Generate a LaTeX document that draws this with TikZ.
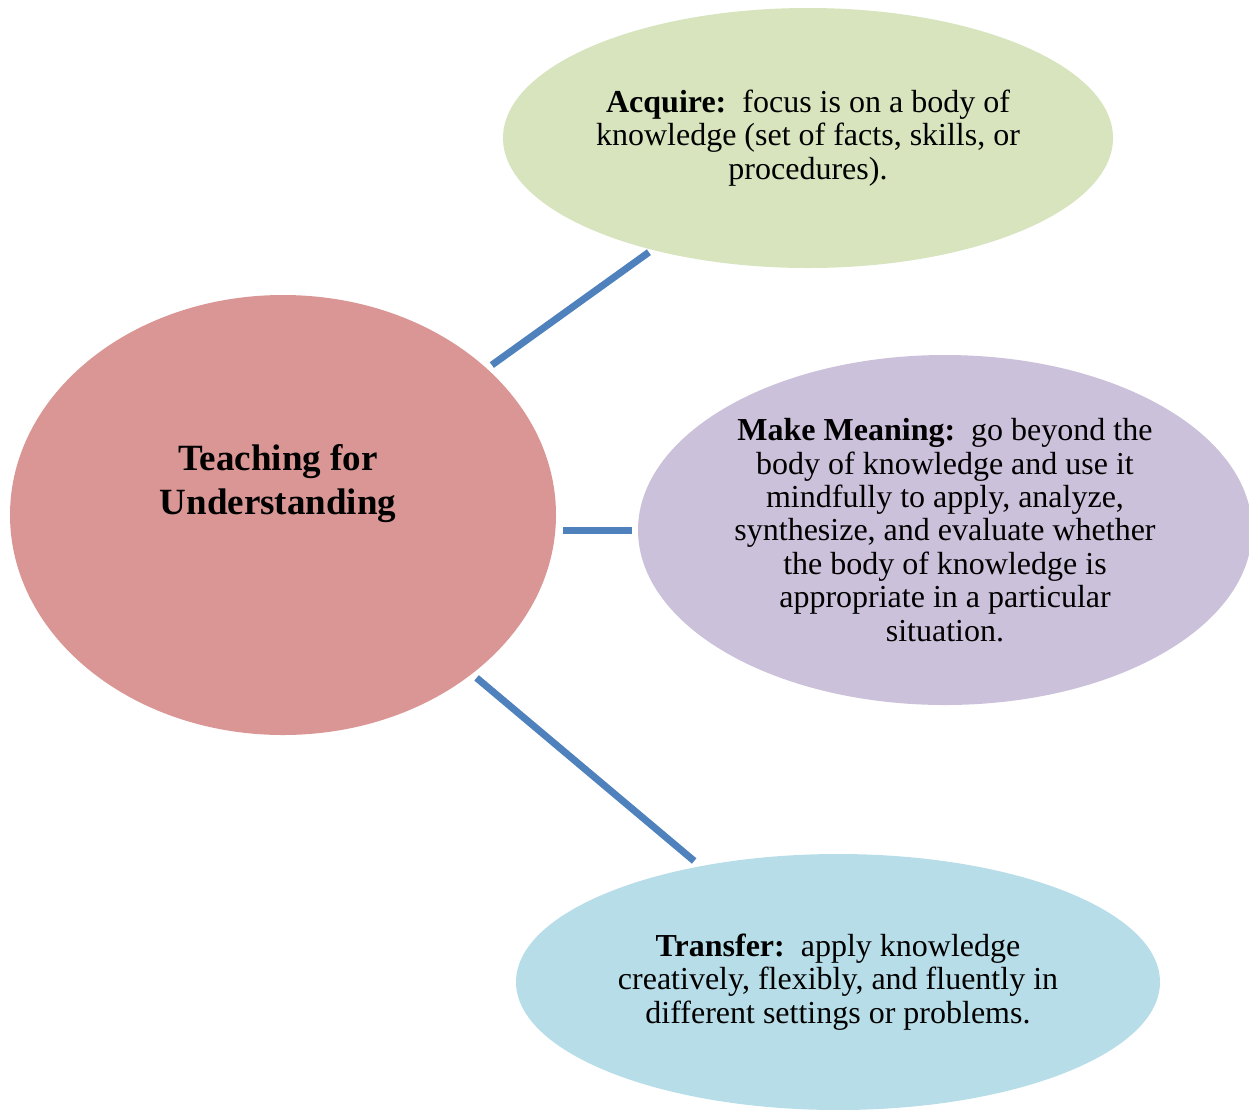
\documentclass[tikz,border=0pt]{standalone}
\usepackage{fontspec}
\setmainfont{Liberation Serif}
\usetikzlibrary{shapes.geometric}

\definecolor{hubred}{RGB}{217,150,148}
\definecolor{acqgreen}{RGB}{215,228,189}
\definecolor{mmviolet}{RGB}{204,193,218}
\definecolor{trblue}{RGB}{183,222,232}
\definecolor{linkblue}{RGB}{79,129,189}

\begin{document}
\begin{tikzpicture}[x=1pt,y=-1pt,
    blob/.style={shape=ellipse,inner sep=0pt,align=center,
        font=\fontsize{32}{33.4}\selectfont},
    link/.style={draw=linkblue,line width=7pt,shorten <=6pt,shorten >=4pt}]
                \useasboundingbox (0,0) rectangle (1249,1109);
                \node[blob,fill=hubred,minimum width=546pt,minimum height=440pt](tfu)at(283, 515){};
                \node[font=\fontsize{37}{44}\selectfont\bfseries,align=center](tfutext)at(278, 484){Teaching for\\Understanding};
                \node[blob,fill=acqgreen,minimum width=610pt,minimum height=260pt](acq)at(808, 138){\textbf{Acquire:}\ \ focus is on a body of\\knowledge (set of facts, skills, or\\procedures).};
                \node[blob,fill=mmviolet,minimum width=614pt,minimum height=350pt](mm)at(945, 530){\textbf{Make Meaning:}\ \ go beyond the\\body of knowledge and use it\\mindfully to apply, analyze,\\synthesize, and evaluate whether\\the body of knowledge is\\appropriate in a particular\\situation.};
                \node[blob,fill=trblue,minimum width=644pt,minimum height=256pt](tr)at(838, 982){\textbf{Transfer:}\ \ apply knowledge\\creatively, flexibly, and fluently in\\different settings or problems.};
                \path[link](tfu) edge (acq)
                (tfu) edge [shorten >=8pt] (tr)
                (mm.west) edge [shorten <=6pt,shorten >=7pt] (mm.west -| tfu.east);
            \end{tikzpicture}
\end{document}
